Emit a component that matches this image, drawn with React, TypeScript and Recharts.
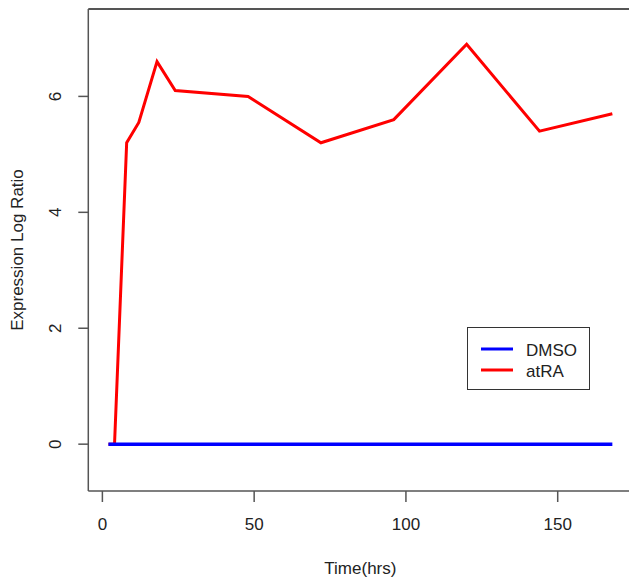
import React from "react";
import { LineChart, Line, XAxis, YAxis, ReferenceLine } from "recharts";

const times = [2, 4, 8, 12, 18, 24, 48, 72, 96, 120, 144, 168];
const dmso = [0, 0, 0, 0, 0, 0, 0, 0, 0, 0, 0, 0];
const atra = [0, 0, 5.2, 5.55, 6.6, 6.1, 6.0, 5.2, 5.6, 6.9, 5.4, 5.7];
const xTicks = [0, 50, 100, 150];
const yTicks = [0, 2, 4, 6];
const series = [
  { name: "DMSO", color: "#0000ff" },
  { name: "atRA", color: "#ff0000" },
];

const data = times.map((t, i) => ({ time: t, DMSO: dmso[i], atRA: atra[i] }));

// R pads the range by 4% on each side
const X_DOMAIN: [number, number] = [-4.64, 174.64];
const Y_DOMAIN: [number, number] = [-0.808, 7.508];

const FONT = "'Liberation Sans', Arial, sans-serif";
const AXIS = "#555";
const TEXT = "#222";

function XTick(props: any) {
  const { x, payload } = props;
  return (
    <text
      x={x}
      y={524}
      textAnchor="middle"
      dominantBaseline="central"
      fontSize={17}
      fontFamily={FONT}
      fill={TEXT}
    >
      {payload.value}
    </text>
  );
}

function YTick(props: any) {
  const { y, payload } = props;
  return (
    <text
      x={56}
      y={y}
      transform={`rotate(-90 56 ${y})`}
      textAnchor="middle"
      dominantBaseline="central"
      fontSize={17}
      fontFamily={FONT}
      fill={TEXT}
    >
      {payload.value}
    </text>
  );
}

function LegendBox() {
  return (
    <div
      style={{
        position: "absolute",
        left: 467,
        top: 327,
        width: 123,
        height: 63,
        border: "1px solid #333",
        boxSizing: "border-box",
        background: "#fff",
        paddingTop: 10,
        fontFamily: FONT,
        fontSize: 17,
        color: TEXT,
      }}
    >
      {series.map((r) => (
        <div
          key={r.name}
          style={{ display: "flex", alignItems: "center", height: 21 }}
        >
          <svg width={58} height={21}>
            <line
              x1={13}
              x2={45}
              y1={11}
              y2={11}
              stroke={r.color}
              strokeWidth={3}
            />
          </svg>
          <span style={{ lineHeight: "21px", marginTop: 4 }}>{r.name}</span>
        </div>
      ))}
    </div>
  );
}

export default function App() {
  return (
    <div
      style={{
        position: "absolute",
        left: 0,
        top: 0,
        width: 629,
        height: 581,
        overflow: "hidden",
        background: "#fff",
      }}
    >
      <LineChart
        width={640}
        height={581}
        data={data}
        margin={{ top: 9, right: 7.5, bottom: 0, left: 0 }}
      >
        <XAxis
          dataKey="time"
          type="number"
          domain={X_DOMAIN}
          ticks={xTicks}
          allowDataOverflow
          height={90}
          stroke={AXIS}
          strokeWidth={1.5}
          tickSize={11}
          tick={<XTick />}
          label={{
            value: "Time(hrs)",
            position: "insideBottom",
            offset: 7,
            fontSize: 17,
            fontFamily: FONT,
            fill: TEXT,
          }}
        />
        <YAxis
          type="number"
          domain={Y_DOMAIN}
          ticks={yTicks}
          allowDataOverflow
          width={88.3}
          stroke={AXIS}
          strokeWidth={1.5}
          tickSize={10}
          tick={<YTick />}
          label={{
            value: "Expression Log Ratio",
            angle: -90,
            position: "insideLeft",
            offset: 17,
            style: { textAnchor: "middle" },
            fontSize: 17,
            fontFamily: FONT,
            fill: TEXT,
          }}
        />
        <ReferenceLine y={Y_DOMAIN[1]} stroke={AXIS} strokeWidth={2} />
        <Line
          dataKey="atRA"
          stroke="#ff0000"
          strokeWidth={3}
          dot={false}
          type="linear"
          isAnimationActive={false}
        />
        <Line
          dataKey="DMSO"
          stroke="#0000ff"
          strokeWidth={3.5}
          dot={false}
          type="linear"
          isAnimationActive={false}
        />
      </LineChart>
      <LegendBox />
    </div>
  );
}
